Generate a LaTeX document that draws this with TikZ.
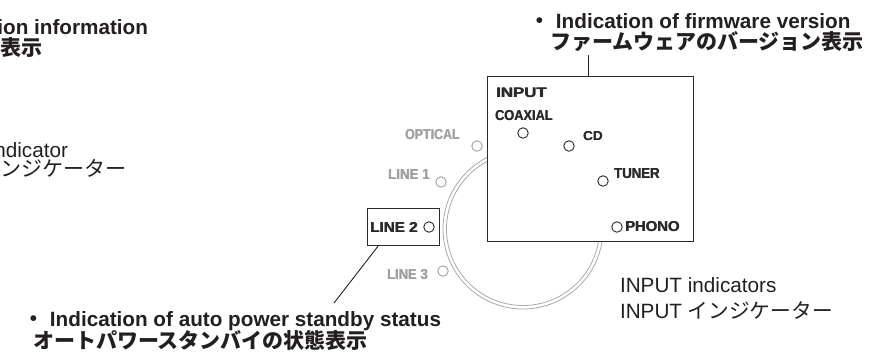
\documentclass[tikz,border=0pt]{standalone}
\usepackage{fontspec}
\usepackage{graphicx}
\setmainfont{Liberation Sans}
\newfontfamily\jp{Noto Sans CJK JP}
\definecolor{ink}{HTML}{231F20}
\definecolor{dk}{HTML}{2A2A2A}
\definecolor{lt}{HTML}{A0A0A0}
\definecolor{ring}{HTML}{A8A8A8}
\newcommand{\lbl}[3]{\resizebox{#1pt}{#2pt}{\bfseries\rlap{#3}\hspace{0.35pt}#3}}
\begin{document}
\begin{tikzpicture}[x=1pt,y=-1pt,
  en/.style={inner sep=0pt, outer sep=0pt, text=ink, font=\fontsize{20.7}{24}\selectfont},
  jpt/.style={inner sep=0pt, outer sep=0pt, text=ink, font=\jp\fontsize{21}{24}\selectfont},
  bld/.style={font=\fontsize{20.7}{24}\selectfont\bfseries},
  jbld/.style={font=\jp\fontsize{21}{24}\selectfont\bfseries},
  ind/.style={circle, draw, minimum size=10.5pt, inner sep=0pt, line width=0.9pt, fill=white},
  lab/.style={inner sep=0pt, outer sep=0pt},
  frame/.style={draw=dk, line width=1.4pt, fill=white, inner sep=0pt, anchor=north west},
  leader/.style={draw=ink, line width=0.9pt}]
\useasboundingbox (0,0) rectangle (873,354);
% ring
\node[circle, draw=ring, line width=0.8pt, minimum size=160pt, inner sep=0pt] (ringout) at (523,229) {};
\node[circle, draw=ring, line width=0.8pt, minimum size=153pt, inner sep=0pt] (ringin) at (523,229) {};
% panel
\node[frame, minimum width=206pt, minimum height=165pt] (panel) at (487,76) {};
\coordinate (fwtip) at (588,55);
\draw[leader] (fwtip |- panel.north) -- (fwtip);
\node[frame, line width=1.2pt, minimum width=72pt, minimum height=37pt] (l2box) at (367,208) {};
\coordinate (aptip) at (334,303);
\draw[leader] ([xshift=11pt]l2box.south west) -- (aptip);
% indicators
\node[ind, draw=dk] (cCOAX) at (523,133) {};
\node[ind, draw=dk] (cCD) at (569,146) {};
\node[ind, draw=dk] (cTUN) at (603,181) {};
\node[ind, draw=dk] (cPHO) at (617,227) {};
\node[ind, draw=dk] (cL2) at (429,227) {};
\node[ind, draw=lt] (cOPT) at (477,146) {};
\node[ind, draw=lt] (cL1) at (441,182) {};
\node[ind, draw=lt] (cL3) at (443,271) {};
% display labels
\node[lab, text=dk] (tIN) at (521.5,92.5) {\lbl{51}{9.5}{INPUT}};
\node[lab, text=dk] (tCOAX) at (524,115.5) {\lbl{58}{10}{COAXIAL}};
\node[lab, text=dk] (tCD) at (593,136) {\lbl{20}{9}{CD}};
\node[lab, text=dk] (tTUN) at (637,174) {\lbl{46}{10}{TUNER}};
\node[lab, text=dk] (tPHO) at (652.5,227) {\lbl{55}{10}{PHONO}};
\node[lab, text=dk] (tL2) at (394,227) {\lbl{48}{10}{LINE 2}};
\node[lab, text=lt] (tOPT) at (432.5,134.5) {\lbl{55}{10}{OPTICAL}};
\node[lab, text=lt] (tL1) at (409,174) {\lbl{42}{10}{LINE 1}};
\node[lab, text=lt] (tL3) at (407.5,275) {\lbl{41}{10}{LINE 3}};
% texts
\node[en, bld, anchor=base east] (lt1) at (148,34) {ion information};
\node[jpt, jbld, anchor=base east] (lt2) at (43,55.5) {表示};
\node[en, anchor=base east] (lm1) at (68,157) {ndicator};
\node[jpt, anchor=base east] (lm2) at (127,176.5) {インジケーター};
\node[en, bld, anchor=base west] (fw1) at (529.5,28) {{\jp ・} Indication of firmware version};
\node[jpt, jbld, anchor=base west] (fw2) at (550,49.5) {ファームウェアのバージョン表示};
\node[en, bld, anchor=base east] (ap1) at (441,326) {{\jp ・} Indication of auto power standby status};
\node[jpt, jbld, anchor=base east] (ap2) at (368,348.5) {オートパワースタンバイの状態表示};
\node[en, anchor=base west] (in1) at (620,292) {INPUT indicators};
\node[en, anchor=base west] (in2) at (620,318) {INPUT {\jp インジケーター}};
\end{tikzpicture}
\end{document}
